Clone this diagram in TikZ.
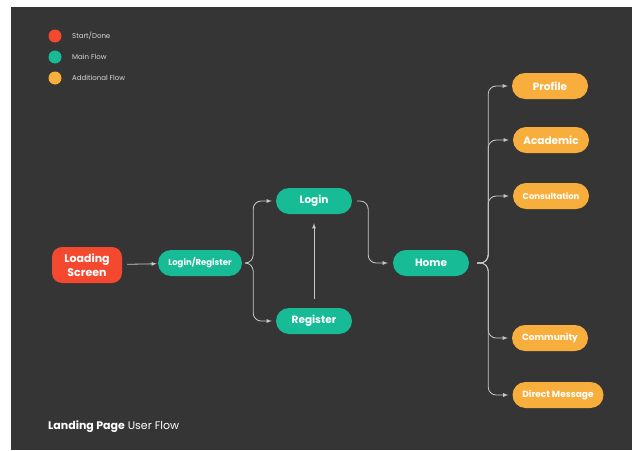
\documentclass[tikz,border=0pt]{standalone}
\usepackage{fontspec}
\setmainfont{Poppins}
\definecolor{bg}{HTML}{353535}
\definecolor{startred}{HTML}{F4482F}
\definecolor{mainteal}{HTML}{17BC97}
\definecolor{extraorange}{HTML}{F8AE3C}
\definecolor{wire}{HTML}{C8C8C8}
\begin{document}
\begin{tikzpicture}[x=1pt, y=-1pt,
  pill/.style={rounded corners=13pt, minimum width=76pt, minimum height=26pt, inner sep=2pt, text=white, font=\bfseries\fontsize{10.5}{12}\selectfont},
  mainbox/.style={pill, fill=mainteal},
  extrabox/.style={pill, fill=extraorange},
  flow/.style={>=latex, ->, draw=wire, line width=0.8pt, rounded corners=8pt, shorten >=4pt},
  dot/.style={circle, minimum size=13pt, inner sep=0pt},
  legendtext/.style={right, text=white!85!black, inner sep=0pt, font=\fontsize{7}{8}\selectfont}]

\useasboundingbox (0,0) rectangle (632,450);
\fill[white] (0,0) rectangle (632,450);
\fill[bg] (11,7) rectangle (632,450);

\node[dot, fill=startred] (redDot) at (55,36) {};
\node[dot, fill=mainteal] (tealDot) at (55,57) {};
\node[dot, fill=extraorange] (orangeDot) at (55,78) {};
\node[legendtext] (redText) at (72,36) {Start/Done};
\node[legendtext] (tealText) at (72,57) {Main Flow};
\node[legendtext] (orangeText) at (72,78) {Additional Flow};

\node[fill=startred, rounded corners=10pt, minimum width=70pt, minimum height=36pt, inner sep=1pt, text=white, align=center, font=\bfseries\fontsize{11}{13.5}\selectfont] (loading) at (87,265) {Loading\\Screen};
\node[mainbox, minimum width=84pt, font=\bfseries\fontsize{8.5}{10}\selectfont] (loginRegister) at (200,263) {Login/Register};
\node[mainbox] (login) at (314,201) {Login};
\node[mainbox] (register) at (314,321) {Register};
\node[mainbox] (home) at (431,263) {Home};

\node[extrabox] (profile) at (550,86) {Profile};
\node[extrabox] (academic) at (551,140) {Academic};
\node[extrabox, font=\bfseries\fontsize{8.5}{10}\selectfont] (consultation) at (551,196) {Consultation};
\node[extrabox, font=\bfseries\fontsize{9}{10}\selectfont] (community) at (550,338) {Community};
\node[extrabox, minimum width=91pt, font=\bfseries\fontsize{9}{10}\selectfont] (directMessage) at (558,395) {Direct Message};

\draw[flow, shorten <=5pt, shorten >=1pt] (loading) -- (loginRegister);
\draw[flow, shorten <=4pt] (loginRegister.east) -- ++(11,0) |- (login.west);
\draw[flow, shorten <=4pt] (loginRegister.east) -- ++(11,0) |- (register.west);
\draw[flow, shorten <=9pt, shorten >=9pt] (register) -- (login);
\draw[flow, shorten <=5pt, shorten >=5pt] (login.east) -- ++(16,0) |- (home.west);

\foreach \target in {profile, academic, consultation, community, directMessage}
  \draw[flow, shorten <=8pt] (home.east) -- ++(19,0) |- (\target.west);

\node[right, inner sep=0pt, text=white, font=\fontsize{11}{12}\selectfont] (title) at (48,427) {\textbf{Landing Page} User Flow};
\end{tikzpicture}
\end{document}
